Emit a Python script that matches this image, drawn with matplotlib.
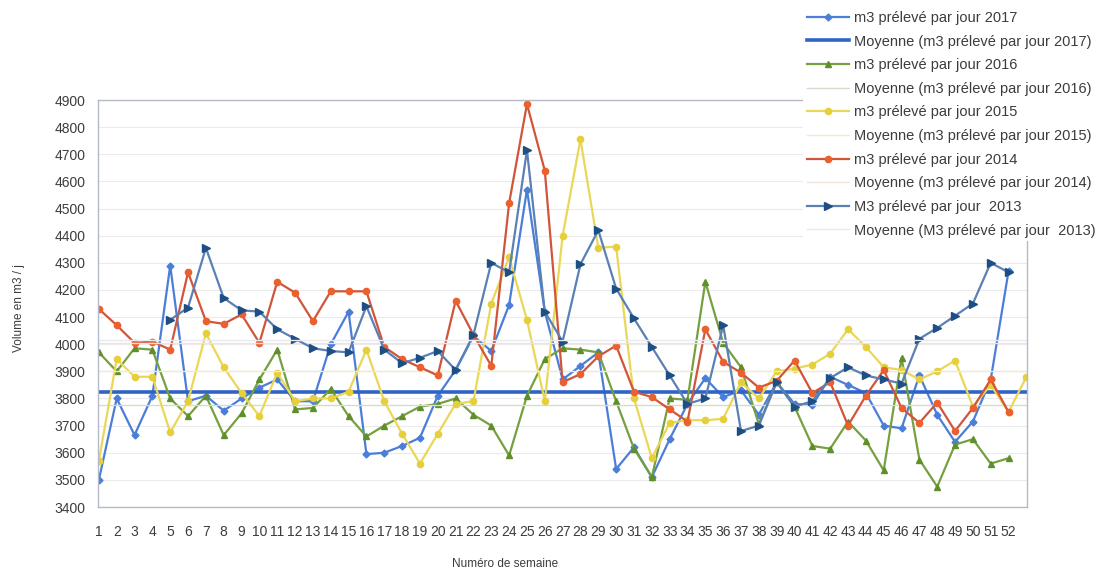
import numpy as np
import matplotlib.pyplot as plt
from matplotlib.ticker import MultipleLocator

plt.rcParams['font.family'] = ['Liberation Sans', 'DejaVu Sans']

weeks = list(range(1, 54))
week_labels = [str(w) for w in range(1, 53)]

# valeurs (m3 / jour)
y2017 = [3500, 3800, 3665, 3810, 4290, 3790, 3810, 3755, 3800, 3840,
         3870, 3790, 3790, 4000, 4120, 3595, 3600, 3625, 3655, 3810,
         3905, 4030, 3975, 4145, 4570, 4120, 3870, 3920, 3970, 3540,
         3620, 3510, 3650, 3780, 3875, 3805, 3830, 3740, 3860, 3780,
         3775, 3880, 3850, 3820, 3700, 3690, 3885, 3740, 3640, 3715,
         3870, 4270, None]
y2016 = [3970, 3900, 3985, 3980, 3800, 3735, 3810, 3665, 3745, 3870,
         3980, 3760, 3765, 3835, 3735, 3660, 3700, 3735, 3770, 3780,
         3800, 3740, 3700, 3590, 3810, 3945, 3985, 3980, 3970, 3790,
         3615, 3510, 3800, 3795, 4230, 4005, 3915, 3705, 3860, 3770,
         3625, 3615, 3715, 3645, 3535, 3950, 3575, 3475, 3630, 3650,
         3560, 3580, None]
y2015 = [3570, 3945, 3880, 3880, 3675, 3790, 4040, 3915, 3820, 3735,
         3895, 3790, 3800, 3800, 3825, 3980, 3790, 3670, 3560, 3670,
         3780, 3790, 4150, 4320, 4090, 3790, 4400, 4755, 4355, 4360,
         3800, 3580, 3710, 3720, 3720, 3725, 3860, 3800, 3900, 3910,
         3925, 3965, 4055, 3990, 3915, 3905, 3870, 3900, 3940, 3770,
         3850, 3750, 3880]
y2014 = [4130, 4070, 4005, 4010, 3980, 4265, 4085, 4075, 4110, 4005,
         4230, 4190, 4085, 4195, 4195, 4195, 3990, 3945, 3915, 3885,
         4160, 4035, 3920, 4520, 4885, 4640, 3860, 3890, 3955, 3995,
         3825, 3805, 3760, 3715, 4055, 3935, 3895, 3840, 3865, 3940,
         3820, 3860, 3700, 3810, 3905, 3765, 3710, 3785, 3680, 3765,
         3870, 3750, None]
y2013 = [None, None, None, None, 4090, 4135, 4355, 4170, 4125, 4120,
         4055, 4020, 3985, 3975, 3970, 4140, 3980, 3930, 3950, 3975,
         3905, 4035, 4300, 4265, 4715, 4120, 4010, 4295, 4420, 4205,
         4095, 3990, 3885, 3780, 3800, 4070, 3680, 3700, 3860, 3770,
         3790, 3875, 3915, 3885, 3870, 3855, 4020, 4060, 4105, 4150,
         4300, 4265, None]

# moyennes (lignes horizontales)
moy2017 = 3825
moy2016 = 3775
moy2015 = 3900
moy2014 = 4005
moy2013 = 4015


def arr(values):
    return np.array([np.nan if v is None else v for v in values], dtype=float)


fig = plt.figure(figsize=(11.07, 5.70), dpi=100)
ax = fig.add_axes([0.0885, 0.1105, 0.8395, 0.714])

ax.set_ylim(3400, 4900)
ax.set_xlim(0.95, 53.05)
ax.yaxis.set_major_locator(MultipleLocator(100))
ax.grid(axis='y', color='#ebebeb', linewidth=0.8)
ax.set_axisbelow(True)

text_col = '#3c3c3c'
l17, = ax.plot(weeks, arr(y2017), color='#4a7ed8', lw=1.6, marker='D', ms=3.5,
               label='m3 prélevé par jour 2017')
m17 = ax.axhline(moy2017, color='#2f63c6', lw=2.6,
                 label='Moyenne (m3 prélevé par jour 2017)')
l16, = ax.plot(weeks, arr(y2016), color='#76a040', lw=1.6, marker='^', ms=5,
               mfc='#5f8f2a', mec='#5f8f2a', label='m3 prélevé par jour 2016')
m16 = ax.axhline(moy2016, color='#d6dccb', lw=1.0,
                 label='Moyenne (m3 prélevé par jour 2016)')
l15, = ax.plot(weeks, arr(y2015), color='#ead757', lw=1.6, marker='o', ms=4.5,
               mfc='#e6cf3c', mec='#e6cf3c', label='m3 prélevé par jour 2015')
m15 = ax.axhline(moy2015, color='#efeccd', lw=1.0,
                 label='Moyenne (m3 prélevé par jour 2015)')
l14, = ax.plot(weeks, arr(y2014), color='#d0553a', lw=1.6, marker='o', ms=4.5,
               mfc='#ec6030', mec='#ec6030', label='m3 prélevé par jour 2014')
m14 = ax.axhline(moy2014, color='#f1e3dc', lw=1.0,
                 label='Moyenne (m3 prélevé par jour 2014)')
l13, = ax.plot(weeks, arr(y2013), color='#5a80b4', lw=1.6, marker='>', ms=5.5,
               mfc='#1d4f84', mec='#1d4f84', label='M3 prélevé par jour  2013')
m13 = ax.axhline(moy2013, color='#e6ebf2', lw=1.0,
                 label='Moyenne (M3 prélevé par jour  2013)')

for side in ['left', 'right', 'top', 'bottom']:
    ax.spines[side].set_color('#b4bac8')
    ax.spines[side].set_linewidth(1.0)

ax.set_xticks(range(1, 53))
ax.set_xticklabels(week_labels)
ax.tick_params(axis='x', length=0, pad=13, labelsize=10, labelcolor=text_col)
ax.tick_params(axis='y', length=0, pad=9, labelsize=10, labelcolor=text_col)

ax.set_ylabel('Volume en m3 / j', fontsize=8.5, color=text_col)
ax.yaxis.set_label_coords(-0.079, 0.49)
ax.set_xlabel('Numéro de semaine', fontsize=8.5, color=text_col)
ax.xaxis.set_label_coords(0.438, -0.125)

handles = [l17, m17, l16, m16, l15, m15, l14, m14, l13, m13]
leg = fig.legend(handles=handles, loc='upper right', bbox_to_anchor=(1.0, 1.0),
                 fontsize=10.5, frameon=True, facecolor='white', edgecolor='none',
                 framealpha=1, labelspacing=0.66, handlelength=2.9,
                 handletextpad=0.35, borderpad=0.25)
for t in leg.get_texts():
    t.set_color(text_col)

fig.savefig('out.png', dpi=100)
